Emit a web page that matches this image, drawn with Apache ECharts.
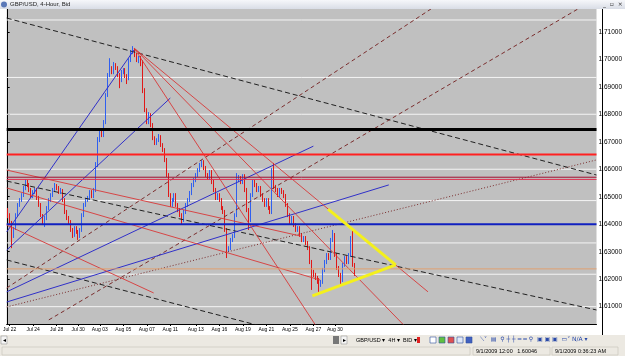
<!DOCTYPE html>
<html><head><meta charset="utf-8">
<script src="https://cdn.jsdelivr.net/npm/echarts@6/dist/echarts.min.js"></script>
<style>html,body{margin:0;padding:0;background:#fff;overflow:hidden}#c{width:625px;height:356px}</style>
</head><body><div id="c"></div>
<script>
// ---------- DATA ----------
// candles: [open, close, low, high]
const candles = [
[1.6444,1.6433,1.6422,1.6459],[1.6433,1.6408,1.6401,1.6440],[1.6408,1.6361,1.6313,1.6412],[1.6361,1.6386,1.6350,1.6390],
[1.6386,1.6433,1.6379,1.6440],[1.6433,1.6470,1.6426,1.6477],[1.6470,1.6488,1.6463,1.6495],[1.6488,1.6506,1.6481,1.6513],
[1.6506,1.6532,1.6499,1.6539],[1.6532,1.6553,1.6524,1.6564],[1.6553,1.6543,1.6535,1.6561],[1.6543,1.6524,1.6517,1.6550],
[1.6524,1.6503,1.6495,1.6532],[1.6503,1.6517,1.6495,1.6524],[1.6517,1.6524,1.6510,1.6532],[1.6524,1.6495,1.6488,1.6532],
[1.6495,1.6470,1.6463,1.6503],[1.6470,1.6433,1.6426,1.6477],[1.6433,1.6408,1.6397,1.6437],[1.6408,1.6422,1.6390,1.6430],
[1.6422,1.6459,1.6415,1.6466],[1.6459,1.6488,1.6452,1.6495],[1.6488,1.6506,1.6481,1.6513],[1.6506,1.6524,1.6499,1.6532],
[1.6524,1.6539,1.6517,1.6550],[1.6539,1.6532,1.6524,1.6546],[1.6532,1.6517,1.6510,1.6539],[1.6517,1.6524,1.6510,1.6532],
[1.6524,1.6488,1.6481,1.6528],[1.6488,1.6444,1.6437,1.6495],[1.6444,1.6422,1.6415,1.6452],[1.6422,1.6408,1.6401,1.6430],
[1.6408,1.6379,1.6372,1.6415],[1.6379,1.6361,1.6350,1.6386],[1.6361,1.6386,1.6354,1.6393],[1.6386,1.6372,1.6365,1.6393],
[1.6372,1.6357,1.6343,1.6379],[1.6357,1.6379,1.6350,1.6386],[1.6379,1.6433,1.6372,1.6440],[1.6433,1.6470,1.6426,1.6477],
[1.6470,1.6488,1.6463,1.6495],[1.6488,1.6495,1.6481,1.6503],[1.6495,1.6517,1.6488,1.6524],[1.6517,1.6503,1.6495,1.6524],
[1.6503,1.6524,1.6495,1.6532],[1.6524,1.6615,1.6517,1.6626],[1.6615,1.6706,1.6608,1.6717],[1.6706,1.6743,1.6699,1.6750],
[1.6743,1.6724,1.6717,1.6750],[1.6724,1.6771,1.6717,1.6779],[1.6771,1.6870,1.6764,1.6877],[1.6870,1.6943,1.6863,1.6950],
[1.6943,1.6961,1.6935,1.7004],[1.6961,1.6953,1.6946,1.6975],[1.6953,1.6979,1.6946,1.6990],[1.6979,1.6968,1.6961,1.6986],
[1.6968,1.6943,1.6935,1.6975],[1.6943,1.6924,1.6895,1.6950],[1.6924,1.6953,1.6917,1.6961],[1.6953,1.6961,1.6946,1.6968],
[1.6961,1.6939,1.6932,1.6968],[1.6939,1.6932,1.6910,1.6946],[1.6932,1.6997,1.6924,1.7004],[1.6997,1.7026,1.6990,1.7034],
[1.7026,1.7034,1.7019,1.7048],[1.7034,1.7015,1.7008,1.7041],[1.7015,1.6997,1.6990,1.7023],[1.6997,1.7004,1.6986,1.7012],
[1.7004,1.6990,1.6975,1.7012],[1.6990,1.6888,1.6877,1.6997],[1.6888,1.6815,1.6808,1.6895],[1.6815,1.6771,1.6764,1.6822],
[1.6771,1.6797,1.6764,1.6808],[1.6797,1.6761,1.6753,1.6804],[1.6761,1.6713,1.6706,1.6768],[1.6713,1.6695,1.6688,1.6720],
[1.6695,1.6706,1.6688,1.6713],[1.6706,1.6717,1.6699,1.6728],[1.6717,1.6688,1.6681,1.6724],[1.6688,1.6670,1.6663,1.6695],
[1.6670,1.6633,1.6626,1.6677],[1.6633,1.6579,1.6572,1.6641],[1.6579,1.6506,1.6499,1.6586],[1.6506,1.6470,1.6463,1.6513],
[1.6470,1.6488,1.6463,1.6495],[1.6488,1.6506,1.6481,1.6513],[1.6506,1.6470,1.6463,1.6513],[1.6470,1.6452,1.6444,1.6477],
[1.6452,1.6433,1.6426,1.6459],[1.6433,1.6415,1.6401,1.6440],[1.6415,1.6444,1.6408,1.6452],[1.6444,1.6470,1.6437,1.6477],
[1.6470,1.6488,1.6463,1.6495],[1.6488,1.6513,1.6481,1.6521],[1.6513,1.6543,1.6506,1.6550],[1.6543,1.6561,1.6535,1.6568],
[1.6561,1.6579,1.6553,1.6586],[1.6579,1.6597,1.6572,1.6604],[1.6597,1.6615,1.6590,1.6623],[1.6615,1.6626,1.6608,1.6633],
[1.6626,1.6604,1.6597,1.6633],[1.6604,1.6579,1.6572,1.6612],[1.6579,1.6568,1.6561,1.6586],[1.6568,1.6590,1.6561,1.6597],
[1.6590,1.6553,1.6546,1.6597],[1.6553,1.6524,1.6517,1.6561],[1.6524,1.6495,1.6488,1.6532],[1.6495,1.6506,1.6488,1.6513],
[1.6506,1.6488,1.6481,1.6513],[1.6488,1.6459,1.6452,1.6495],[1.6459,1.6444,1.6437,1.6466],[1.6444,1.6379,1.6372,1.6452],
[1.6379,1.6306,1.6277,1.6386],[1.6306,1.6313,1.6299,1.6320],[1.6313,1.6343,1.6306,1.6350],[1.6343,1.6357,1.6335,1.6364],
[1.6357,1.6433,1.6350,1.6440],[1.6433,1.6561,1.6426,1.6586],[1.6561,1.6568,1.6553,1.6579],[1.6568,1.6553,1.6546,1.6575],
[1.6553,1.6575,1.6546,1.6582],[1.6575,1.6524,1.6517,1.6582],[1.6524,1.6452,1.6444,1.6532],[1.6452,1.6415,1.6379,1.6459],
[1.6415,1.6506,1.6408,1.6513],[1.6506,1.6553,1.6499,1.6561],[1.6553,1.6543,1.6535,1.6561],[1.6543,1.6524,1.6517,1.6550],
[1.6524,1.6532,1.6517,1.6539],[1.6532,1.6506,1.6499,1.6539],[1.6506,1.6488,1.6481,1.6513],[1.6488,1.6470,1.6463,1.6495],
[1.6470,1.6488,1.6463,1.6495],[1.6488,1.6459,1.6452,1.6495],[1.6459,1.6444,1.6437,1.6466],[1.6444,1.6597,1.6437,1.6604],
[1.6597,1.6535,1.6528,1.6623],[1.6535,1.6524,1.6517,1.6543],[1.6524,1.6506,1.6499,1.6532],[1.6506,1.6524,1.6499,1.6532],
[1.6524,1.6517,1.6510,1.6532],[1.6517,1.6503,1.6495,1.6524],[1.6503,1.6470,1.6463,1.6510],[1.6470,1.6433,1.6426,1.6477],
[1.6433,1.6408,1.6401,1.6440],[1.6408,1.6422,1.6401,1.6430],[1.6422,1.6397,1.6390,1.6430],[1.6397,1.6379,1.6372,1.6404],
[1.6379,1.6386,1.6372,1.6393],[1.6386,1.6361,1.6354,1.6393],[1.6361,1.6343,1.6335,1.6368],[1.6343,1.6350,1.6335,1.6357],
[1.6350,1.6332,1.6324,1.6357],[1.6332,1.6313,1.6306,1.6339],[1.6313,1.6263,1.6255,1.6320],[1.6263,1.6226,1.6161,1.6270],
[1.6226,1.6215,1.6208,1.6234],[1.6215,1.6204,1.6197,1.6223],[1.6204,1.6197,1.6183,1.6212],[1.6197,1.6179,1.6154,1.6204],
[1.6179,1.6190,1.6172,1.6197],[1.6190,1.6234,1.6183,1.6241],[1.6234,1.6263,1.6226,1.6270],[1.6263,1.6288,1.6255,1.6295],
[1.6288,1.6277,1.6270,1.6295],[1.6277,1.6343,1.6270,1.6350],[1.6343,1.6361,1.6335,1.6379],[1.6361,1.6288,1.6281,1.6368],
[1.6288,1.6241,1.6234,1.6295],[1.6241,1.6215,1.6208,1.6248],[1.6215,1.6197,1.6183,1.6223],[1.6197,1.6252,1.6190,1.6259],
[1.6252,1.6277,1.6245,1.6284],[1.6277,1.6263,1.6255,1.6284],[1.6263,1.6288,1.6255,1.6295],[1.6288,1.6350,1.6281,1.6357],
[1.6350,1.6252,1.6245,1.6379],[1.6252,1.6237,1.6212,1.6259]
];
const totalSlots = 301;
const dateLabels = ['Jul 22','Jul 24','Jul 28','Jul 30','Aug 03','Aug 05','Aug 07','Aug 11','Aug 13','Aug 16','Aug 19','Aug 21','Aug 25','Aug 27','Aug 30'];
const dateIdx = [1,13,25,36,47,59,71,83,96,108,120,132,144,156,167];
const priceTicks = [1.61,1.62,1.63,1.64,1.65,1.66,1.67,1.68,1.69,1.70,1.71];
const priceMin = 1.6037, priceMax = 1.7183;

// horizontal levels
const whiteLevels = [1.7143,1.6934,1.6800,1.6600,1.6486,1.6332,1.6218,1.6100];
const blackLevel = 1.6745;
const redLevel = 1.6654;
const redPairLevels = [1.6571,1.6563];
const blueLevel = 1.6400;
const bidLevel = 1.62375;
const tagBlue = 1.63742, tagRed = 1.62081;

// trend lines: [[barIndex, price],[barIndex, price]]
const blackDashed = [
  [[-0.5,1.7150],[300.5,1.6579]],
  [[-0.5,1.6557],[300.5,1.6088]],
  [[-0.5,1.6270],[199.5,1.5899]]
];
const brownDashed = [
  [[-0.5,1.6168],[216,1.7183]],
  [[21,1.6052],[291,1.7183]]
];
const brownDotted = [
  [[-0.5,1.6099],[300.5,1.6634]]
];
const blueLines = [
  [[-0.5,1.6372],[64.5,1.7034]],
  [[-0.5,1.6306],[83,1.6859]],
  [[-0.5,1.6154],[156,1.6684]],
  [[-0.5,1.6117],[194.5,1.6543]]
];
const redLines = [
  [[64.5,1.7041],[214.5,1.6154]],
  [[64.5,1.7041],[202,1.6034]],
  [[64.5,1.7041],[157,1.6034]],
  [[-0.5,1.6597],[149.5,1.6357]],
  [[-0.5,1.6532],[159.5,1.6197]],
  [[-0.5,1.6397],[74.5,1.6150]]
];
const yellowLines = [
  [[163.5,1.6455],[198,1.6252]],
  [[155.5,1.6139],[198,1.6252]]
];

// ---------- CHART ----------
const chart = echarts.init(document.getElementById('c'), null, {renderer:'canvas'});
const cats = [];
for (let i=0;i<totalSlots;i++){ const k=dateIdx.indexOf(i); cats.push(k>=0?dateLabels[k]:''); }

const series = [];
series.push({
  type:'candlestick', xAxisIndex:0, yAxisIndex:0, data:candles, barMaxWidth:1, z:3,
  itemStyle:{color:'#3060f0',color0:'#e01818',borderColor:'#3060f0',borderColor0:'#e01818',borderWidth:1},
  silent:true, animation:false
});
function addLines(list, style, z){
  list.forEach(seg=>series.push({type:'line',xAxisIndex:1,yAxisIndex:0,data:seg,showSymbol:false,symbol:'none',
    lineStyle:style,z:z,silent:true,animation:false}));
}
function hLine(v, style, z){ addLines([[[-0.5,v],[300.5,v]]], style, z); }
whiteLevels.forEach(v=>hLine(v,{color:'#f4f4f4',width:1},1));
addLines(blackDashed,{color:'#202020',width:1,type:[5,3]},4);
addLines(brownDashed,{color:'#7a2d2d',width:1,type:[4,3]},4);
addLines(brownDotted,{color:'#7a2d2d',width:1,type:[1,2]},4);
addLines(blueLines,{color:'#3030c8',width:1},4);
addLines(redLines,{color:'#d83838',width:0.9},4);
hLine(blackLevel,{color:'#000000',width:3},5);
hLine(redLevel,{color:'#ff2020',width:2},5);
hLine(redPairLevels[0],{color:'#a01030',width:1},5);
hLine(redPairLevels[1],{color:'#e03050',width:1},5);
hLine(blueLevel,{color:'#1020c0',width:2},5);
hLine(bidLevel,{color:'#e0a070',width:1},5);
addLines(yellowLines,{color:'#f4f01c',width:3},6);

// price tags on the axis
series.push({type:'line',xAxisIndex:1,yAxisIndex:0,data:[],silent:true,z:10,
  markLine:{symbol:'none',silent:true,animation:false,lineStyle:{opacity:0},
    label:{position:'end',distance:1,fontSize:6,lineHeight:6,padding:[0,1],color:'#fff',fontFamily:'Liberation Sans'},
    data:[
      {yAxis:tagBlue,label:{backgroundColor:'#3c74dc',formatter:tagBlue.toFixed(5)}},
      {yAxis:bidLevel,label:{backgroundColor:'#f0b070',formatter:bidLevel.toFixed(5)}},
      {yAxis:tagRed,label:{backgroundColor:'#e02828',formatter:tagRed.toFixed(5)}}
    ]}});

const option = {
  animation:false,
  backgroundColor:'#ffffff',
  grid:{left:0,right:23,top:9,bottom:32,show:true,backgroundColor:'#c0c0c0',borderWidth:0},
  xAxis:[
    {type:'category',data:cats,boundaryGap:true,
     axisLine:{show:true,lineStyle:{color:'#000',width:1}},
     axisTick:{show:true,length:2,interval:(i)=>cats[i]!=='',alignWithLabel:true,lineStyle:{color:'#000'}},
     axisLabel:{interval:0,fontSize:5,color:'#000',margin:3,fontFamily:'Liberation Sans Narrow, Liberation Sans'},
     splitLine:{show:false}},
    {type:'value',min:-0.5,max:300.5,show:false}
  ],
  yAxis:[{type:'value',position:'right',min:priceMin,max:priceMax,scale:true,
    axisLine:{show:true,lineStyle:{color:'#000',width:1}},
    axisTick:{show:true,length:2,customValues:priceTicks,lineStyle:{color:'#000'}},
    axisLabel:{customValues:priceTicks,fontSize:6.5,color:'#000',margin:2,fontFamily:'Liberation Sans',
      formatter:(v)=>v.toFixed(5)},
    splitLine:{show:false}}],
  series:series,
  graphic:[
    {type:'rect',shape:{x:0,y:0,width:625,height:9},style:{fill:new echarts.graphic.LinearGradient(0,0,0,1,[{offset:0,color:'#f6f7fa'},{offset:1,color:'#d9dde6'}])},z:100},
    {type:'circle',shape:{cx:4,cy:4.5,r:3},style:{fill:'#5a78b8'},z:101},
    {type:'text',x:10,y:1.5,style:{text:'GBP/USD, 4-Hour, Bid',fontSize:6,fill:'#222',fontFamily:'Liberation Sans'},z:101},
    {type:'text',x:603,y:1,style:{text:'_  ▫  ×',fontSize:6,fill:'#333',fontFamily:'DejaVu Sans'},z:101},
    // toolbar
    {type:'rect',shape:{x:0,y:335,width:625,height:11},style:{fill:'#ece9e2'},z:100},
    {type:'rect',shape:{x:1,y:336,width:6,height:8},style:{fill:'#f4f4f4',stroke:'#888',lineWidth:0.5},z:101},
    {type:'text',x:2.5,y:337,style:{text:'◂',fontSize:6,fill:'#000'},z:102},
    {type:'rect',shape:{x:333,y:336,width:6,height:8},style:{fill:'#777'},z:101},
    {type:'rect',shape:{x:341,y:336,width:6,height:8},style:{fill:'#f4f4f4',stroke:'#888',lineWidth:0.5},z:101},
    {type:'text',x:342.5,y:337,style:{text:'▸',fontSize:6,fill:'#000'},z:102},
    {type:'text',x:356,y:337.5,style:{text:'GBP/USD ▾  4H ▾  BID ▾',fontSize:5.5,fill:'#000',fontFamily:'Liberation Sans'},z:101},
    {type:'rect',shape:{x:417,y:337,width:3,height:6},style:{fill:'#e02020'},z:101},
    {type:'rect',shape:{x:430,y:337,width:6,height:6},style:{fill:'#fff',stroke:'#3050a0',lineWidth:0.6},z:101},
    {type:'rect',shape:{x:439,y:337,width:6,height:6},style:{fill:'#60c040',stroke:'#3050a0',lineWidth:0.6},z:101},
    {type:'rect',shape:{x:448,y:337,width:6,height:6},style:{fill:'#e05050',stroke:'#3050a0',lineWidth:0.6},z:101},
    {type:'rect',shape:{x:457,y:337,width:6,height:6},style:{fill:'#e0e8f8',stroke:'#3050a0',lineWidth:0.6},z:101},
    {type:'rect',shape:{x:466,y:337,width:6,height:6},style:{fill:'#4060c0',stroke:'#3050a0',lineWidth:0.6},z:101},
    {type:'text',x:480,y:336.5,style:{text:'⟍˅  ▤  ⚲ ┼ ┼ ═ ═ ⚲  ▣ ▣ ▣  ▭˅ N/A ▾',fontSize:6,fill:'#2848a8',fontFamily:'DejaVu Sans'},z:101},
    // status bar
    {type:'rect',shape:{x:0,y:346,width:625,height:10},style:{fill:'#ece9e2'},z:100},
    {type:'rect',shape:{x:2,y:347,width:468,height:8},style:{fill:'#ece9e2',stroke:'#c8c4b8',lineWidth:0.6},z:101},
    {type:'rect',shape:{x:473,y:347,width:77,height:8},style:{fill:'#ece9e2',stroke:'#c8c4b8',lineWidth:0.6},z:101},
    {type:'rect',shape:{x:552,y:347,width:66,height:8},style:{fill:'#ece9e2',stroke:'#c8c4b8',lineWidth:0.6},z:101},
    {type:'text',x:476,y:348,style:{text:'9/1/2009 12:00   1.60046',fontSize:5.5,fill:'#000',fontFamily:'Liberation Sans'},z:102},
    {type:'text',x:555,y:348,style:{text:'9/1/2009 0:36:23 AM',fontSize:5.5,fill:'#000',fontFamily:'Liberation Sans'},z:102},
    {type:'line',shape:{x1:602.5,y1:9,x2:602.5,y2:335},style:{stroke:'#000',lineWidth:1},z:99}
  ]
};
chart.setOption(option);
</script></body></html>
